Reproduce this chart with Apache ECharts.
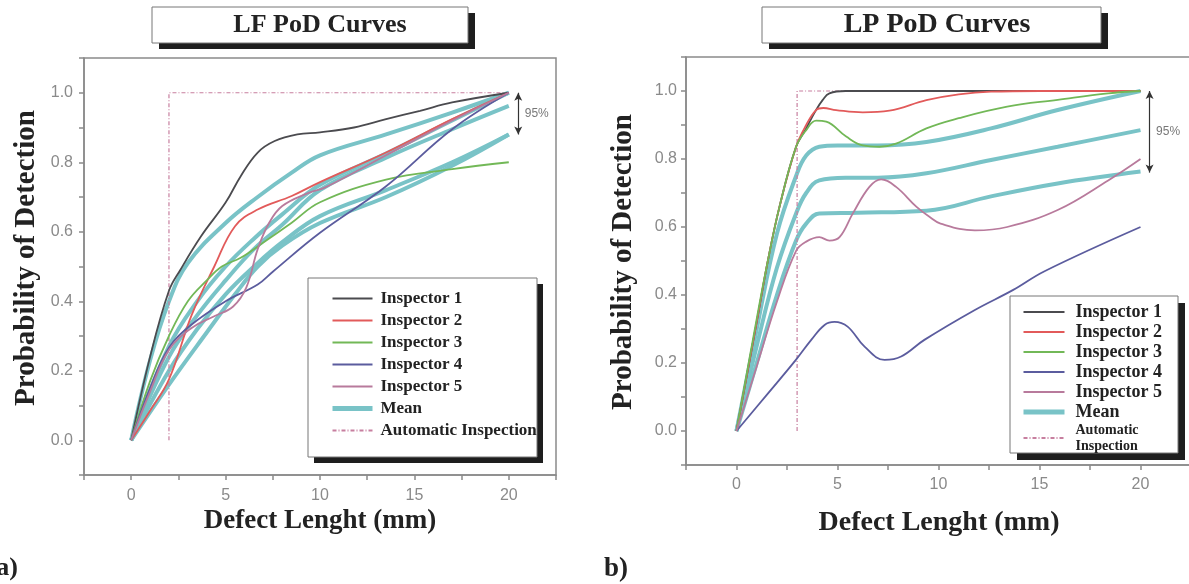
<!DOCTYPE html>
<html>
<head>
<meta charset="utf-8">
<title>LF / LP PoD Curves</title>
<script src="https://cdn.jsdelivr.net/npm/echarts@6/dist/echarts.min.js"></script>
<style>
  html, body { margin: 0; padding: 0; background: #fff; }
  #chart { width: 1189px; height: 584px; }
</style>
</head>
<body>
<div id="chart"></div>
<script>
// ---- a) LF panel, [defect length mm, PoD] ----
var lfInspector1 = [[0, 0], [1, 0.24], [2, 0.43], [2.6, 0.49], [3.7, 0.587], [5, 0.684], [5.8, 0.76], [6.7, 0.828], [7.6, 0.861], [8.8, 0.88], [10, 0.886], [11.8, 0.9], [13.5, 0.924], [15.3, 0.948], [17, 0.972], [20, 1.0]]
var lfInspector2 = [[0, 0], [1, 0.085], [2, 0.175], [3.2, 0.36], [4.4, 0.5], [5.5, 0.616], [6.7, 0.664], [8.5, 0.703], [10, 0.743], [13.5, 0.828], [17, 0.924], [20, 1.0]]
var lfInspector3 = [[0, 0], [1, 0.17], [2, 0.3], [3, 0.4], [4, 0.46], [4.8, 0.5], [5.8, 0.525], [7, 0.569], [8.5, 0.626], [10, 0.685], [13.5, 0.75], [17, 0.78], [20, 0.8]]
var lfInspector4 = [[0, 0], [1, 0.15], [2, 0.266], [3.2, 0.333], [5, 0.4], [6.7, 0.448], [7.5, 0.485], [10, 0.597], [13.5, 0.731], [17, 0.895], [20, 1.0]]
var lfInspector5 = [[0, 0], [1, 0.14], [2, 0.26], [3.2, 0.323], [4.4, 0.357], [5.4, 0.385], [6.1, 0.44], [6.7, 0.55], [7.3, 0.625], [8, 0.674], [9.4, 0.712], [10.25, 0.727], [13.5, 0.82], [17, 0.92], [20, 1.0]]
var lfMean1 = [[0, 0], [1, 0.23], [2, 0.4], [3, 0.51], [5, 0.625], [6.7, 0.7], [8.5, 0.77], [10, 0.82], [13.5, 0.88], [17, 0.943], [20, 1.0]]
var lfMean2 = [[0, 0], [2, 0.27], [3.5, 0.4], [5, 0.5], [6.5, 0.58], [8, 0.65], [10, 0.735], [13.5, 0.825], [17, 0.92], [20, 1.0]]
var lfMean3 = [[0, 0], [2, 0.24], [3.5, 0.36], [5, 0.46], [6.5, 0.55], [8, 0.62], [10, 0.72], [13.5, 0.813], [17, 0.895], [20, 0.962]]
var lfMean4 = [[0, 0], [2, 0.2], [3.5, 0.32], [5, 0.42], [6.5, 0.5], [8, 0.57], [10, 0.645], [13.5, 0.72], [17, 0.8], [20, 0.88]]
var lfMean5 = [[0, 0], [2, 0.16], [4, 0.31], [5.5, 0.42], [6.7, 0.5], [8, 0.56], [10, 0.625], [13.5, 0.7], [17, 0.79], [20, 0.88]]
var lfAuto = [[2, 0], [2, 1], [20, 1]]
var lfBand = [20.5, 1.0, 0.88] // x, top, bottom of the 95% arrow

// ---- b) LP panel ----
var lpInspector1 = [[0, 0], [1, 0.32], [1.55, 0.5], [2.13, 0.66], [2.95, 0.836], [3.45, 0.89], [3.9, 0.94], [4.27, 0.974], [4.6, 0.993], [5.4, 1.0], [8, 1.0], [20, 1.0]]
var lpInspector2 = [[0, 0], [1, 0.32], [1.55, 0.5], [2.13, 0.66], [2.95, 0.836], [3.45, 0.9], [3.94, 0.944], [4.3, 0.95], [4.93, 0.944], [6.25, 0.937], [7.57, 0.942], [9.4, 0.973], [11, 0.99], [12.6, 0.998], [15, 1.0], [20, 1.0]]
var lpInspector3 = [[0, 0], [1, 0.33], [1.55, 0.5], [2.13, 0.66], [2.95, 0.836], [3.45, 0.885], [3.94, 0.913], [4.44, 0.91], [5.43, 0.866], [6.25, 0.84], [7.08, 0.836], [7.9, 0.845], [9.4, 0.89], [11, 0.92], [13.4, 0.954], [15.9, 0.974], [18.4, 0.993], [20, 1.0]]
var lpInspector4 = [[0, 0], [1.55, 0.11], [2.95, 0.21], [3.7, 0.268], [4.36, 0.312], [4.85, 0.321], [5.5, 0.307], [6.34, 0.248], [7.33, 0.209], [8.15, 0.219], [9.3, 0.268], [11.8, 0.356], [13.7, 0.415], [15.25, 0.47], [20, 0.6]]
var lpInspector5 = [[0, 0], [1, 0.19], [2, 0.38], [2.95, 0.53], [3.45, 0.557], [4.1, 0.57], [4.6, 0.56], [5.1, 0.57], [5.76, 0.64], [6.58, 0.718], [7.16, 0.74], [7.9, 0.718], [8.9, 0.66], [9.55, 0.63], [10.1, 0.61], [11.8, 0.59], [13.4, 0.6], [15.9, 0.65], [18.4, 0.737], [20, 0.8]]
var lpMean1 = [[0, 0], [1, 0.3], [2, 0.58], [2.95, 0.75], [3.45, 0.81], [4.1, 0.836], [5, 0.84], [7, 0.84], [9.4, 0.85], [12.6, 0.89], [15.9, 0.944], [20, 1.0]]
var lpMean2 = [[0, 0], [1, 0.25], [2, 0.48], [2.95, 0.64], [3.45, 0.7], [4.1, 0.737], [5.4, 0.745], [7, 0.745], [9.4, 0.758], [12.6, 0.797], [15.9, 0.836], [20, 0.885]]
var lpMean3 = [[0, 0], [1, 0.2], [2, 0.4], [2.95, 0.56], [3.45, 0.61], [4.1, 0.64], [6, 0.642], [9.4, 0.648], [12.6, 0.69], [15.9, 0.728], [20, 0.763]]
var lpAuto = [[3, 0], [3, 1], [20, 1]]
var lpBand = [20.45, 1.0, 0.76]

var legendNames = ['Inspector 1', 'Inspector 2', 'Inspector 3', 'Inspector 4', 'Inspector 5', 'Mean', 'Automatic Inspection']
var colors = {
  'Inspector 1': '#4b4b4f',
  'Inspector 2': '#e25a5a',
  'Inspector 3': '#72b857',
  'Inspector 4': '#5b5c9e',
  'Inspector 5': '#b87a9c',
  'Mean': '#79c3c7',
  'Automatic Inspection': '#c77f9f'
}

var axisGray = '#8a8a8a'
var serif = 'Liberation Serif'

function xLabel(v) {
  return (v >= 0 && v <= 20 && v % 5 === 0) ? String(v) : ''
}
function yLabel(v) {
  var k = Math.round(v * 10)
  return (k >= 0 && k <= 10 && k % 2 === 0) ? (k / 10).toFixed(1) : ''
}

function xAxis(grid, margin) {
  return {
    gridIndex: grid, type: 'value', min: -2.5, max: 22.5, interval: 2.5,
    axisLine: { show: true, onZero: false, lineStyle: { color: axisGray, width: 1.5 } },
    axisTick: { show: true, length: 5, lineStyle: { color: axisGray, width: 1.5 } },
    axisLabel: { formatter: xLabel, color: axisGray, fontSize: 16, fontFamily: 'Liberation Sans', margin: margin },
    splitLine: { show: false }
  }
}
function yAxis(grid, margin) {
  return {
    gridIndex: grid, type: 'value', min: -0.1, max: 1.1, interval: 0.1,
    axisLine: { show: true, onZero: false, lineStyle: { color: axisGray, width: 1.5 } },
    axisTick: { show: true, length: 5, lineStyle: { color: axisGray, width: 1.5 } },
    axisLabel: { formatter: yLabel, color: axisGray, fontSize: 16, fontFamily: 'Liberation Sans', margin: margin },
    splitLine: { show: false }
  }
}

// legend entries: the Mean sample is drawn thicker, like the curves
var legendData = legendNames.map(function (n) {
  return n === 'Mean' ? { name: n, lineStyle: { width: 5 } } : { name: n, lineStyle: { width: 2 } }
})

function curve(name, data, grid, width) {
  return {
    name: name, type: 'line', data: data,
    xAxisIndex: grid, yAxisIndex: grid,
    smooth: 0.4, symbol: 'none',
    color: colors[name],
    lineStyle: { color: colors[name], width: width }
  }
}
function auto(data, grid) {
  return {
    name: 'Automatic Inspection', type: 'line', data: data,
    xAxisIndex: grid, yAxisIndex: grid, symbol: 'none',
    color: colors['Automatic Inspection'],
    lineStyle: { color: colors['Automatic Inspection'], width: 1.2, type: [4, 2, 1, 2] }
  }
}
function band(b, grid) {
  return {
    name: '95%', type: 'scatter', xAxisIndex: grid, yAxisIndex: grid,
    data: [[b[0], (b[1] + b[2]) / 2]],
    symbolSize: 1, itemStyle: { color: 'rgba(0,0,0,0)' },
    label: { show: true, formatter: '95%', position: 'right', distance: 6, color: '#555', fontSize: 12, fontFamily: 'Liberation Sans' },
    markLine: {
      silent: true, symbol: ['arrow', 'arrow'], symbolSize: [6, 8],
      lineStyle: { color: '#333', width: 1.2, type: 'solid' },
      label: { show: false },
      data: [[{ coord: [b[0], b[1]] }, { coord: [b[0], b[2]] }]]
    }
  }
}

function boxWithShadow(x, y, w, h, dx, dy) {
  return [
    { type: 'rect', z: 5, shape: { x: x + dx, y: y + dy, width: w, height: h }, style: { fill: '#1e1e1e' } },
    { type: 'rect', z: 6, shape: { x: x, y: y, width: w, height: h }, style: { fill: '#fff', stroke: '#777', lineWidth: 1 } }
  ]
}
function label(text, x, y, size, rotate) {
  return {
    type: 'text', z: 7, x: x, y: y, rotation: rotate ? Math.PI / 2 : 0,
    style: { text: text, fontSize: size, fontFamily: serif, fontWeight: 'bold', fill: '#222', align: 'center', verticalAlign: 'middle' }
  }
}

var chart = echarts.init(document.getElementById('chart'))
chart.setOption({
  animation: false,
  backgroundColor: '#fff',
  grid: [
    { left: 84, top: 58, width: 472, height: 417, show: true, borderColor: axisGray, borderWidth: 1.5, outerBoundsMode: 'none' },
    { left: 686, top: 57, width: 505, height: 408, show: true, borderColor: axisGray, borderWidth: 1.5, outerBoundsMode: 'none' }
  ],
  xAxis: [xAxis(0, 13), xAxis(1, 12)],
  yAxis: [yAxis(0, 11), yAxis(1, 9)],
  legend: [{
    orient: 'vertical', left: 330, top: 288, padding: 0, itemGap: 1,
    itemWidth: 40, itemHeight: 14, selectedMode: false, z: 10,
    itemStyle: { opacity: 0 },
    data: legendData,
    textStyle: { fontFamily: serif, fontWeight: 'bold', fontSize: 17, color: '#222', lineHeight: 21, padding: [0, 0, 0, 3] }
  }, {
    orient: 'vertical', left: 1021, top: 302, padding: 0, itemGap: 0,
    itemWidth: 41, itemHeight: 14, selectedMode: false, z: 10,
    itemStyle: { opacity: 0 },
    data: legendData,
    formatter: function (name) {
      return name === 'Automatic Inspection' ? '{s|Automatic}\n{s|Inspection}' : name
    },
    textStyle: {
      fontFamily: serif, fontWeight: 'bold', fontSize: 18, color: '#222', lineHeight: 20, padding: [0, 0, 0, 6],
      rich: { s: { fontFamily: serif, fontWeight: 'bold', fontSize: 14, lineHeight: 16, color: '#222' } }
    }
  }],
  graphic: [].concat(
    boxWithShadow(152, 7, 316, 36, 7, 6),
    boxWithShadow(762, 7, 339, 36, 7, 6),
    boxWithShadow(308, 278, 229, 179, 6, 6),
    boxWithShadow(1010, 296, 168, 157, 7, 7),
    [
      label('LF PoD Curves', 320, 25, 26),
      label('LP PoD Curves', 937, 25, 28),
      label('Probability of Detection', 27, 258, 29, true),
      label('Probability of Detection', 624, 262, 29, true),
      label('Defect Lenght (mm)', 320, 521, 27),
      label('Defect Lenght (mm)', 939, 523, 28),
      label('a)', 7, 568, 26),
      label('b)', 616, 569, 27)
    ]
  ),
  series: [
    curve('Mean', lfMean1, 0, 4),
    curve('Mean', lfMean2, 0, 4),
    curve('Mean', lfMean3, 0, 4),
    curve('Mean', lfMean4, 0, 4),
    curve('Mean', lfMean5, 0, 4),
    auto(lfAuto, 0),
    curve('Inspector 1', lfInspector1, 0, 1.8),
    curve('Inspector 2', lfInspector2, 0, 1.8),
    curve('Inspector 3', lfInspector3, 0, 1.8),
    curve('Inspector 4', lfInspector4, 0, 1.8),
    curve('Inspector 5', lfInspector5, 0, 1.8),
    band(lfBand, 0),

    curve('Mean', lpMean1, 1, 4),
    curve('Mean', lpMean2, 1, 4),
    curve('Mean', lpMean3, 1, 4),
    auto(lpAuto, 1),
    curve('Inspector 1', lpInspector1, 1, 1.8),
    curve('Inspector 2', lpInspector2, 1, 1.8),
    curve('Inspector 3', lpInspector3, 1, 1.8),
    curve('Inspector 4', lpInspector4, 1, 1.8),
    curve('Inspector 5', lpInspector5, 1, 1.8),
    band(lpBand, 1)
  ]
})
</script>
</body>
</html>
